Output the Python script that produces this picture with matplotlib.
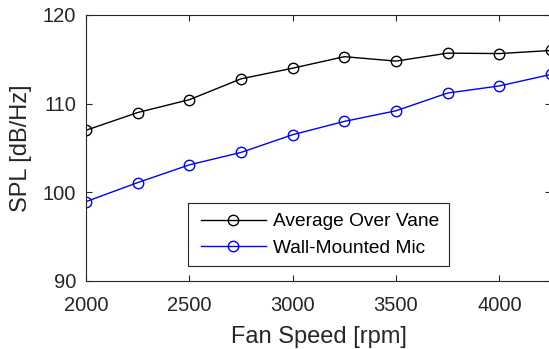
import numpy as np
import matplotlib
matplotlib.use('Agg')
import matplotlib.pyplot as plt
from matplotlib.legend_handler import HandlerLine2D

plt.rcParams['font.family'] = ['Liberation Sans', 'DejaVu Sans']

# fan speed sweep and measured levels
fan_speed = [2000, 2250, 2500, 2750, 3000, 3250, 3500, 3750, 4000, 4250]
spl_vane = [107.0, 109.0, 110.45, 112.8, 114.0, 115.3, 114.8, 115.7, 115.65, 116.0]
spl_wall = [98.95, 101.1, 103.1, 104.5, 106.5, 108.0, 109.2, 111.2, 112.0, 113.3]

fig = plt.figure(figsize=(5.49, 3.49), dpi=100)
ax = fig.add_axes([86/549, 68/349, 465/549, 266/349])

ax.plot(fan_speed, spl_vane, '-o', color='k', mfc='none', ms=7.5, lw=1,
        mew=1, label='Average Over Vane')
ax.plot(fan_speed, spl_wall, '-o', color='b', mfc='none', ms=7.5, lw=1,
        mew=1, label='Wall-Mounted Mic')

ax.set_xlim(2000, 4250)
ax.set_ylim(90, 120)
ax.set_xticks([2000, 2500, 3000, 3500, 4000])
ax.set_yticks([90, 100, 110, 120])
ax.tick_params(direction='in', top=True, right=True, labelsize=14.5,
               colors='#262626', length=4, width=0.8)
ax.tick_params(axis='x', pad=10.5)
ax.tick_params(axis='y', pad=7)
for s in ax.spines.values():
    s.set_color('#262626')
    s.set_linewidth(0.8)

ax.set_xlabel('Fan Speed [rpm]', fontsize=17, color='#262626', labelpad=8.5)
ax.set_ylabel('SPL [dB/Hz]', fontsize=17, color='#262626', labelpad=7.5)

leg = ax.legend(loc='lower left', bbox_to_anchor=(0.22, 0.056),
                borderaxespad=0, fontsize=13.8, fancybox=False,
                handlelength=3.55, handletextpad=0.36, borderpad=0.5,
                labelspacing=0.45, framealpha=1,
                handler_map={plt.Line2D: HandlerLine2D(xpad=0.15)})
leg.get_frame().set_edgecolor('#262626')
leg.get_frame().set_linewidth(0.8)

fig.savefig('out.png', dpi=100)
